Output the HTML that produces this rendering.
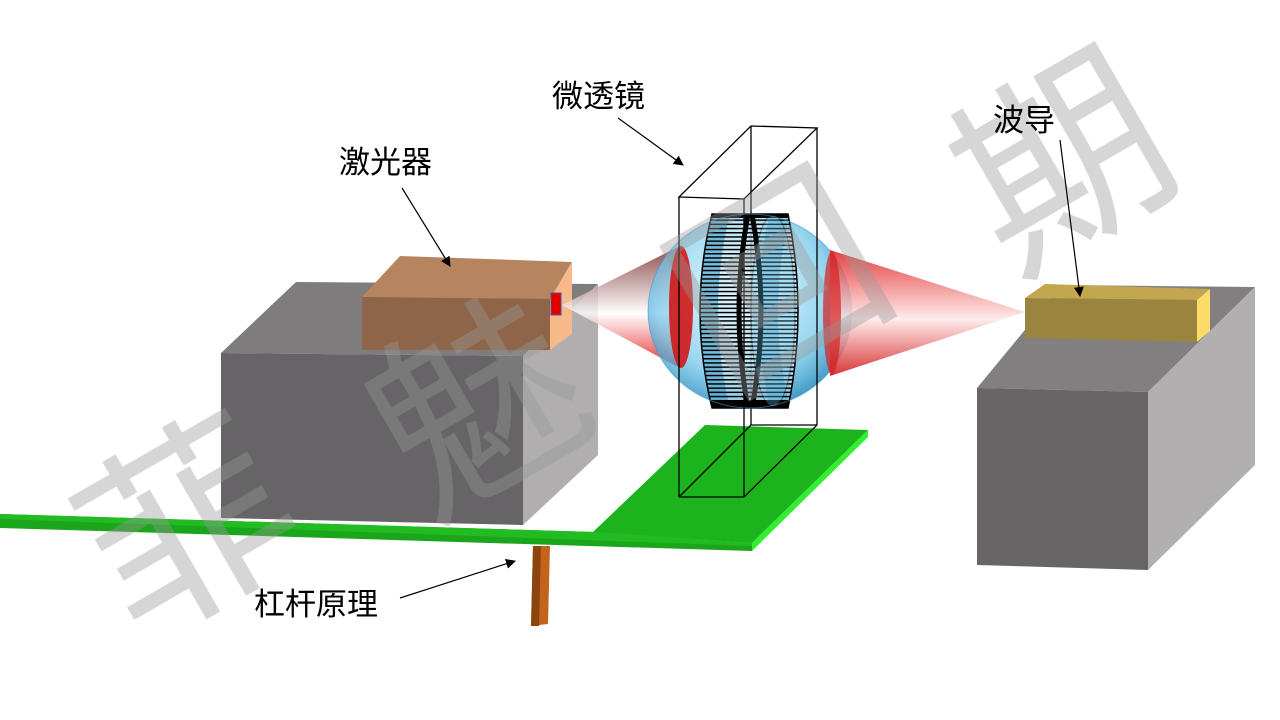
<!DOCTYPE html>
<html><head><meta charset="utf-8"><style>
html,body{margin:0;padding:0;background:#fff;width:1280px;height:720px;overflow:hidden}
svg{display:block}
text{font-family:"Liberation Sans","Noto Sans CJK SC",sans-serif}
</style></head><body>
<svg width="1280" height="720" viewBox="0 0 1280 720" xmlns="http://www.w3.org/2000/svg">
<defs>
<marker id="ah" markerWidth="10" markerHeight="10" refX="9" refY="5" orient="auto" markerUnits="userSpaceOnUse"><path d="M0,0 L10,5 L0,10 z" fill="#000"/></marker>
<linearGradient id="coneL" x1="0" y1="0" x2="0" y2="1">
<stop offset="0" stop-color="#6a1515" stop-opacity=".85"/><stop offset=".55" stop-color="#ffffff" stop-opacity=".9"/><stop offset="1" stop-color="#e01010"/></linearGradient>
<linearGradient id="coneR" x1="0" y1="0" x2="0" y2="1">
<stop offset="0" stop-color="#e02020"/><stop offset=".55" stop-color="#ffe8e8"/><stop offset="1" stop-color="#d01010"/></linearGradient>
<radialGradient id="sph" cx=".45" cy=".4" r=".6">
<stop offset="0" stop-color="#d8f2ff" stop-opacity=".6"/><stop offset=".7" stop-color="#6ec6ea" stop-opacity=".7"/><stop offset="1" stop-color="#2a8ec0" stop-opacity=".85"/></radialGradient>
<pattern id="str" width="10" height="4.2" patternUnits="userSpaceOnUse" y="1">
<rect width="10" height="4.2" fill="none"/><rect y="0" width="10" height="1.5" fill="#000"/></pattern>
<clipPath id="cyl"><path d="M712,214 L788,214 Q808,311 788,408 L712,408 Q688,311 712,214 Z"/></clipPath>
</defs>

<!-- left support box -->
<polygon points="221,353 296,282 598,284 523,356" fill="#7f7c7d"/>
<polygon points="523,356 598,284 598,455 523,525" fill="#b0aeaf"/>
<polygon points="221,353 523,356 523,525 221,518" fill="#666466"/>
<!-- laser -->
<polygon points="362,297 400,256 572,262 550,299" fill="#b6845f"/>
<polygon points="550,299 572,262 572,334 550,350" fill="#f7b98a"/>
<polygon points="362,297 550,299 550,350 362,350" fill="#8e6548"/>
<rect x="551" y="293" width="10" height="22" fill="#e00000" stroke="#5050a0" stroke-width="1"/>

<!-- green plate & lever -->
<polygon points="593,532 705,425 868,430 752,543" fill="#1db31d"/>
<polygon points="752,543 868,430 868,437 752,551" fill="#33ee33"/>
<polygon points="0,514 595,532 752,543 752,551 0,528" fill="#1aa51a"/>
<polygon points="0,514 595,532 752,543 752,546 0,519" fill="#22bb22"/>
<polygon points="533,546 550,546 548,624 531,626" fill="#c2651a"/>
<polygon points="533,546 541,546 539,626 531,626" fill="#8a4510"/>

<!-- wireframe back -->
<g fill="none" stroke="#000" stroke-width="1.3">
<line x1="751" y1="126" x2="751" y2="425"/>
<line x1="751" y1="425" x2="679" y2="497"/>
<line x1="751" y1="425" x2="817" y2="425"/>
</g>

<!-- left cone -->
<polygon points="562,305 680,246 680,368" fill="url(#coneL)" opacity=".9"/>
<!-- sphere -->
<ellipse cx="750" cy="311" rx="102" ry="97" fill="url(#sph)"/>
<ellipse cx="681" cy="307" rx="12" ry="61" fill="#d01818" opacity=".9"/>
<!-- striped cylinder -->
<g clip-path="url(#cyl)">
<rect x="680" y="210" width="130" height="200" fill="#d8eef8" opacity=".5"/>
<path d="M730,214 Q706,311 730,408 L712,408 Q688,311 712,214 Z" fill="#3a9ccc" opacity=".6"/>
<path d="M790,214 Q766,311 790,408 L770,408 Q746,311 770,214 Z" fill="#3a9ccc" opacity=".4"/>
<rect x="680" y="210" width="130" height="200" fill="url(#str)"/>
<rect x="680" y="210" width="130" height="8" fill="#000"/>
<rect x="680" y="401" width="130" height="8" fill="#000"/>
<path d="M748,214 Q730,311 748,408 M752,214 Q770,311 752,408" fill="none" stroke="#000" stroke-width="5"/>
</g>
<path d="M712,214 L788,214 Q808,311 788,408 L712,408 Q688,311 712,214 Z" fill="none" stroke="#000" stroke-width="1.5"/>
<ellipse cx="773" cy="311" rx="22" ry="96" fill="#6ec6ea" opacity=".3" stroke="#000" stroke-width="1.2"/>
<ellipse cx="750" cy="311" rx="102" ry="97" fill="none" stroke="#3a9ccc" stroke-width="1" opacity=".6"/>
<!-- right cone -->
<polygon points="830,250 1025,312 830,376" fill="url(#coneR)" opacity=".85"/>
<ellipse cx="832" cy="313" rx="9" ry="62" fill="#d82020" opacity=".7"/>

<!-- wireframe front -->
<g fill="none" stroke="#000" stroke-width="1.3">
<polygon points="679,197 744,199 817,128 751,126"/>
<line x1="679" y1="197" x2="679" y2="497"/>
<line x1="744" y1="199" x2="744" y2="497"/>
<line x1="817" y1="128" x2="817" y2="425"/>
<line x1="679" y1="497" x2="744" y2="497"/>
<line x1="744" y1="497" x2="817" y2="425"/>
</g>

<!-- right support box -->
<polygon points="977,388 1062,285 1255,287 1148,392" fill="#827f80"/>
<polygon points="1148,392 1255,287 1255,465 1148,570" fill="#b1afb0"/>
<polygon points="977,388 1148,392 1148,570 977,565" fill="#676566"/>
<!-- waveguide -->
<polygon points="1025,298 1045,284 1210,289 1197,300" fill="#c2a650"/>
<polygon points="1197,300 1210,289 1210,331 1197,342" fill="#fddb6a"/>
<polygon points="1025,298 1197,300 1197,342 1025,338" fill="#9a843e"/>

<!-- watermark -->
<g font-size="205" fill="#9a9a9a" opacity=".4" text-anchor="middle">
<text transform="translate(225,590) rotate(-30)">菲</text>
<text transform="translate(515,470) rotate(-30)">魅</text>
<text transform="translate(815,345) rotate(-30)">回</text>
<text transform="translate(1100,225) rotate(-30)">期</text>
</g>

<!-- labels -->
<g font-size="31" fill="#000">
<text x="552" y="107">微透镜</text>
<text x="339" y="173">激光器</text>
<text x="993" y="131">波导</text>
<text x="254" y="615">杠杆原理</text>
</g>
<g stroke="#000" stroke-width="1.2" fill="none" marker-end="url(#ah)">
<line x1="618" y1="118" x2="683" y2="165"/>
<line x1="402" y1="188" x2="450" y2="266"/>
<line x1="1060" y1="140" x2="1080" y2="296"/>
<line x1="400" y1="598" x2="515" y2="561"/>
</g>
</svg>
</body></html>
